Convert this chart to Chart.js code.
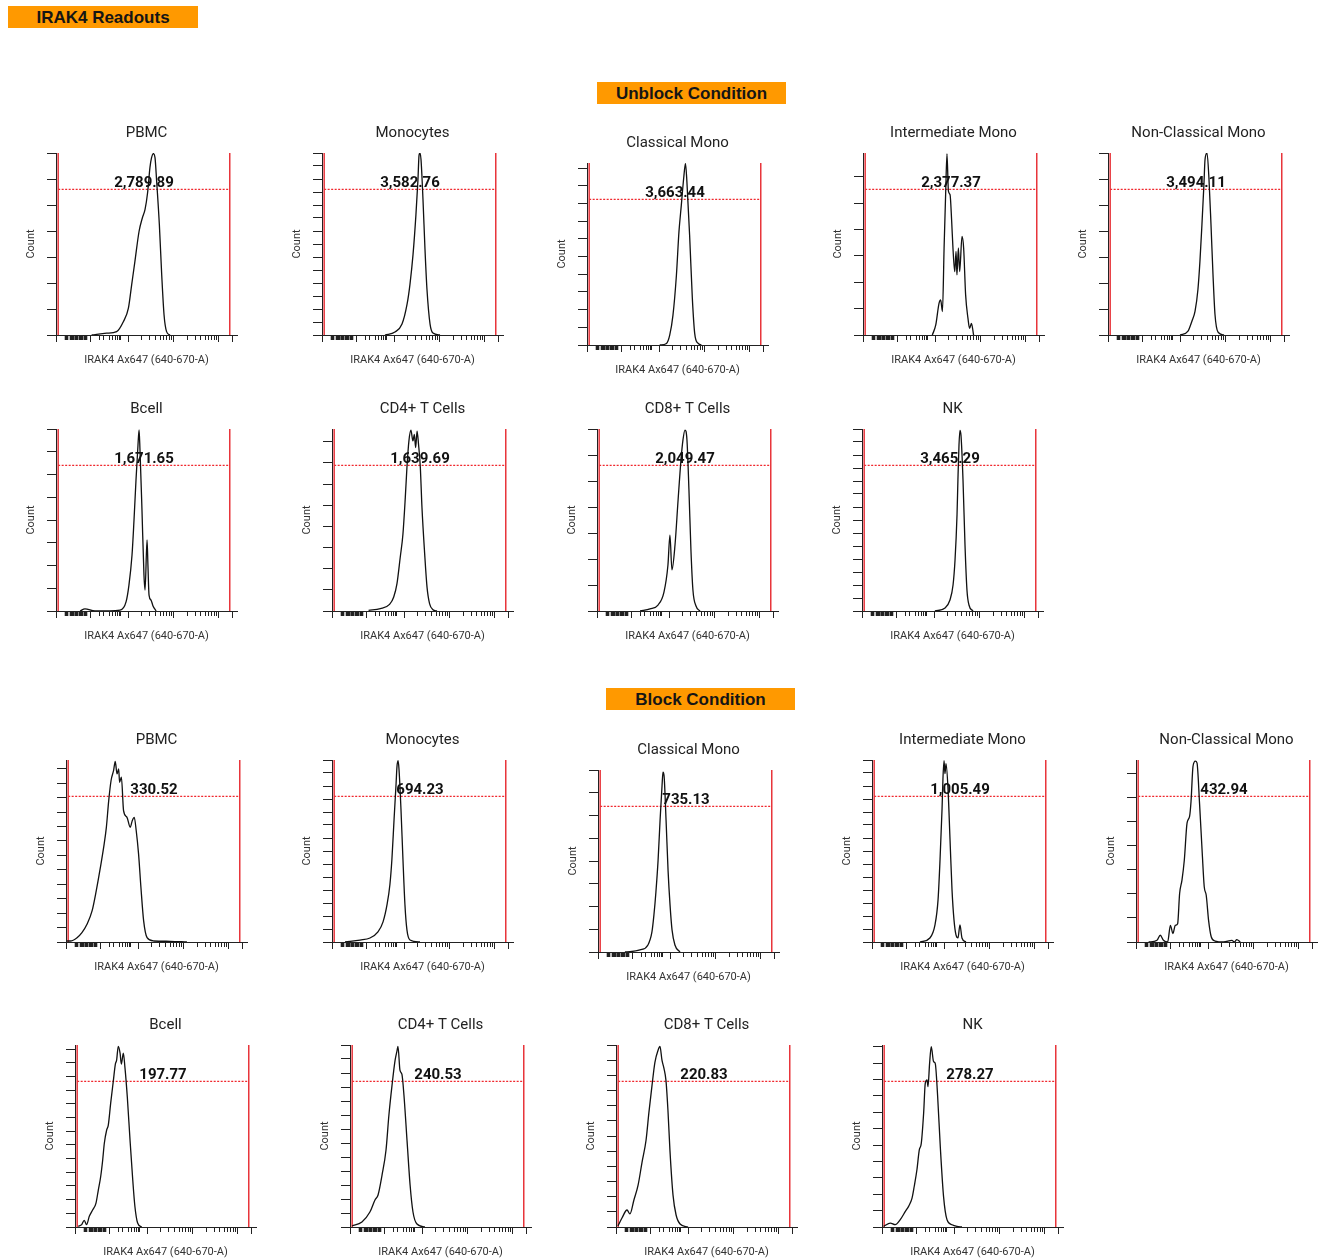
<!DOCTYPE html>
<html>
<head>
<meta charset="utf-8">
<script src="https://cdn.jsdelivr.net/npm/chart.js@4.4.1/dist/chart.umd.min.js"></script>
<style>
    body { margin: 0; background: #fff; width: 1326px; height: 1260px; position: relative; overflow: hidden; font-family: Roboto, sans-serif; }
    .tag { position: absolute; height: 20px; padding-top: 2px; line-height: 22px; background: #ff9900; color: #151515; text-align: center; font: bold 17px "Liberation Sans", Arial, sans-serif; }
    canvas { position: absolute; }
</style>
</head>
<body>
<div class="tag" style="left:8px;top:6px;width:190px">IRAK4 Readouts</div>
<div class="tag" style="left:597px;top:82px;width:189px">Unblock Condition</div>
<div class="tag" style="left:606px;top:688px;width:189px">Block Condition</div>

<script>
// panel names, same order in both conditions
const cellTypes = ['PBMC', 'Monocytes', 'Classical Mono', 'Intermediate Mono', 'Non-Classical Mono',
                   'Bcell', 'CD4+ T Cells', 'CD8+ T Cells', 'NK'];

// gate MFI readouts
const unblockMfi = ['2,789.89', '3,582.76', '3,663.44', '2,377.37', '3,494.11', '1,671.65', '1,639.69', '2,049.47', '3,465.29'];
const blockMfi = ['330.52', '694.23', '735.13', '1,005.49', '432.94', '197.77', '240.53', '220.83', '278.27'];

// y axis top (in count tick steps) for each panel
const unblockYMax = [7, 14, 10.3, 6.9, 7, 8, 8.6, 7, 14];
const blockYMax = [12.6, 14, 8, 14, 7.55, 13.3, 13, 12, 11.1];

// x axis: display channel 0..1000, biex ticks
const xMajorTicks = [0, 188, 400, 650, 900, 975];
const xMinorTicks = [55, 60, 65, 80, 85, 90, 95, 105, 110, 115, 120, 130, 135, 140, 145, 160, 165, 170,
                     239, 265, 293, 311, 326, 339, 350, 359,
                     475, 519, 550, 575, 595, 611, 626, 639,
                     725, 769, 800, 825, 845, 861, 876, 889];

// gate range (display units) and dotted level (fraction of y axis)
const gateRange = [12, 960];
const gateLevel = 0.8;

// histograms [x display, count]
const ubPBMC = [[197,0],[280,0.07],[335,0.13],[372,0.51],[400,1.03],[418,1.93],[436,2.83],[459,3.99],[477,4.5],[492,4.83],[506,5.47],[519,6.44],[528,6.82],[538,6.98],[547,6.82],[556,5.92],[571,4.25],[584,2.32],[597,0.77],[611,0.13],[630,0]];
const ubMono = [[348,0],[403,0.23],[442,0.84],[470,2.37],[486,3.9],[503,6.2],[519,9.26],[530,11.9],[536,13.8],[541,14],[547,13.5],[558,10.4],[569,6.6],[580,3.5],[597,0.84],[613,0.15],[652,0]];
const ubClassical = [[402,0],[439,0.09],[457,0.56],[475,1.69],[494,3.95],[508,6.4],[521,7.9],[534,9.42],[544,10.27],[552,9.23],[567,6.2],[582,2.64],[595,0.66],[613,0.1],[632,0]];
const ubInter = [[383,0],[402,0.38],[420,1.2],[429,1.33],[439,0.89],[448,3.3],[457,5.45],[464,6.87],[472,5.45],[481,5.32],[490,4.3],[497,3.3],[507,2.4],[514,3.17],[519,2.28],[527,3.3],[534,2.4],[547,3.74],[556,3.3],[567,1.52],[580,0.63],[589,0.25],[599,0.44],[611,0]];
const ubNonClass = [[398,0],[442,0.15],[464,0.54],[481,0.92],[497,1.76],[508,2.84],[519,4.25],[530,5.79],[536,6.74],[547,7.0],[558,5.98],[569,4.25],[580,2.34],[591,0.8],[608,0.11],[641,0]];
const ubBcell = [[133,0],[160,0.09],[215,0],[354,0.04],[387,0.4],[403,1.14],[420,2.46],[431,4.0],[442,5.76],[453,7.3],[459,7.96],[464,7.08],[475,4.44],[486,1.58],[492,0.92],[503,3.12],[508,2.0],[514,0.7],[525,0.48],[536,0.22],[553,0]];
const ubCD4 = [[202,0.03],[267,0.11],[318,0.31],[341,0.66],[359,1.29],[377,2.54],[392,3.64],[405,5.37],[414,6.78],[425,8.04],[436,8.54],[447,8.04],[455,8.35],[462,7.72],[470,8.5],[478,7.88],[488,6.78],[497,4.9],[512,2.7],[525,1.13],[539,0.35],[558,0.06],[580,0]];
const ubCD8 = [[238,0],[293,0.08],[337,0.23],[370,0.73],[392,1.77],[403,2.92],[414,1.58],[431,2.54],[448,4.27],[464,5.81],[475,6.58],[486,6.96],[497,6.58],[508,4.65],[519,2.35],[530,0.81],[547,0.19],[569,0]];
const ubNK = [[403,0],[459,0.23],[486,0.85],[503,2],[514,3.92],[525,7.4],[530,10.1],[536,12.8],[541,13.9],[547,13.5],[558,10.1],[569,5.1],[580,1.6],[591,0.46],[613,0]];

const bPBMC = [[6,0.07],[24,0.07],[61,0.3],[88,0.65],[116,1.23],[144,2.15],[167,3.54],[190,5.16],[208,6.55],[223,7.94],[236,9.79],[249,11.18],[263,11.88],[272,12.5],[282,11.64],[291,11.99],[296,11.06],[306,11.41],[318,9.1],[337,8.63],[355,7.94],[366,8.4],[377,8.63],[388,7.7],[401,6.08],[414,3.77],[429,1.46],[448,0.3],[484,0.07],[576,0.05],[668,0]];
const bMono = [[72,0],[155,0.15],[210,0.31],[254,0.78],[282,1.55],[304,2.87],[320,4.42],[331,6.36],[343,9.46],[354,12.17],[359,13.49],[365,13.95],[370,13.33],[381,10.23],[392,6.36],[403,2.87],[414,0.93],[431,0.15],[486,0]];
const bClassical = [[149,0],[232,0.09],[276,0.31],[298,0.88],[309,1.63],[320,2.64],[332,4.04],[343,5.8],[354,7.34],[359,7.91],[365,7.74],[376,5.8],[387,3.6],[398,2.07],[409,0.97],[425,0.31],[453,0]];
const bInter = [[265,0],[320,0.31],[348,1.32],[365,3.26],[376,6.36],[387,10.23],[392,12.56],[398,13.95],[403,12.95],[409,13.72],[420,11.78],[431,7.9],[442,4.03],[453,1.7],[464,0.54],[475,0.31],[486,1.32],[497,0.31],[519,0]];
const bNonClass = [[70,0],[116,0.07],[134,0.28],[152,0.07],[175,0],[190,0.69],[204,0.35],[217,0.69],[230,0.76],[241,2.01],[254,2.57],[267,3.4],[282,4.93],[296,5.21],[304,5.83],[315,7.29],[328,7.5],[337,7.43],[351,5.76],[366,3.68],[377,2.29],[388,1.94],[401,0.9],[416,0.21],[438,0.04],[484,0],[530,0.07],[543,0],[557,0.1],[576,0]];
const bBcell = [[18,0.05],[37,0.17],[51,0.49],[64,0.17],[79,0.78],[98,1.26],[116,1.75],[129,2.72],[142,3.69],[153,4.9],[162,6.12],[175,7.09],[184,7.45],[197,9.03],[212,10.7],[223,11.9],[230,12.2],[239,13.2],[249,12.7],[256,11.9],[267,12.7],[276,11.65],[289,9.5],[304,6.36],[319,3.45],[331,1.5],[346,0.29],[368,0]];
const bCD4 = [[11,0.07],[66,0.36],[110,1.07],[138,1.93],[155,2.29],[177,3.71],[199,5.5],[215,8],[232,10.1],[249,11.9],[260,12.6],[265,12.9],[276,11.2],[287,10.9],[298,9.43],[315,6.2],[332,3],[348,1.07],[370,0.21],[414,0]];
const bCD8 = [[11,0.07],[33,0.59],[61,1.12],[77,0.86],[99,1.78],[122,2.76],[144,4.28],[166,5.72],[182,7.57],[199,9.34],[215,10.86],[232,11.64],[243,11.9],[254,11],[265,10.46],[276,9.67],[287,7.7],[298,5.07],[315,2.1],[332,0.79],[354,0.2],[398,0]];
const bNK = [[9,0.04],[46,0.24],[73,0.14],[101,0.45],[129,0.95],[147,1.26],[166,1.76],[178,2.47],[193,3.49],[206,4.7],[217,5.1],[230,6.94],[239,8.76],[249,8.97],[254,8.56],[263,9.98],[272,11.0],[285,10.08],[294,9.98],[307,8.05],[322,4.91],[340,1.87],[359,0.45],[387,0.14],[414,0.04],[442,0]];

const unblockHists = [ubPBMC, ubMono, ubClassical, ubInter, ubNonClass, ubBcell, ubCD4, ubCD8, ubNK];
const blockHists = [bPBMC, bMono, bClassical, bInter, bNonClass, bBcell, bCD4, bCD8, bNK];

// page layout: left edge of y axis, top of plot
const unblockSlots = [[56,153],[322,153],[587,163],[863,153],[1108,153],[56,429],[332,429],[597,429],[862,429]];
const blockSlots = [[66,760],[332,760],[598,770],[872,760],[1136,760],[75,1045],[350,1045],[616,1045],[882,1045]];

const allXTicks = xMajorTicks.concat(xMinorTicks).sort(function (a, b) { return a - b; });

// MFI text over the gate
const gateLabel = {
    id: 'gateLabel',
    afterDatasetsDraw: function (chart, args, opts) {
        const ctx = chart.ctx;
        const xs = chart.scales.x, ys = chart.scales.y;
        const cx = (xs.getPixelForValue(gateRange[0]) + xs.getPixelForValue(gateRange[1])) / 2;
        const cy = ys.getPixelForValue(opts.level);
        ctx.save();
        ctx.font = 'bold 15px Roboto';
        ctx.fillStyle = '#111';
        ctx.textAlign = 'center';
        ctx.textBaseline = 'bottom';
        ctx.fillText(opts.text, cx, cy + 1);
        ctx.restore();
    }
};

function makeHistogram(slot, title, points, yMax, mfi) {
    const canvas = document.createElement('canvas');
    canvas.width = 240;
    canvas.height = 262;
    canvas.style.left = (slot[0] - 50) + 'px';
    canvas.style.top = (slot[1] - 40) + 'px';
    document.body.appendChild(canvas);

    const level = yMax * gateLevel;
    const red = '#e8343a';

    new Chart(canvas, {
        type: 'line',
        data: {
            datasets: [{
                data: points.map(function (p) { return { x: p[0], y: p[1] }; }),
                borderColor: '#111',
                borderWidth: 1.3,
                pointRadius: 0,
                cubicInterpolationMode: 'monotone'
            }, {
                data: [{ x: gateRange[0], y: 0 }, { x: gateRange[0], y: yMax }],
                borderColor: red, borderWidth: 1.5, pointRadius: 0
            }, {
                data: [{ x: gateRange[1], y: 0 }, { x: gateRange[1], y: yMax }],
                borderColor: red, borderWidth: 1.5, pointRadius: 0
            }, {
                data: [{ x: gateRange[0], y: level }, { x: gateRange[1], y: level }],
                borderColor: '#f0282e', borderWidth: 1.2, borderDash: [2, 1.5], pointRadius: 0
            }]
        },
        options: {
            responsive: false,
            animation: false,
            layout: { padding: { left: 0, right: 9, top: 0, bottom: 0 } },
            plugins: {
                legend: { display: false },
                tooltip: { enabled: false },
                title: {
                    display: true,
                    text: title,
                    fullSize: false,
                    color: '#222',
                    font: { family: 'Roboto', size: 15, weight: 'normal' },
                    padding: { top: 11, bottom: 11 }
                },
                gateLabel: { text: mfi, level: level }
            },
            scales: {
                x: {
                    type: 'linear',
                    min: 0,
                    max: 1000,
                    afterBuildTicks: function (s) {
                        s.ticks = allXTicks.map(function (v) { return { value: v }; });
                    },
                    afterFit: function (s) { s.height = 40; },
                    ticks: { display: false },
                    grid: {
                        drawOnChartArea: false,
                        tickLength: 7,
                        color: '#222',
                        tickWidth: function (c) {
                            return c.tick.value > 50 && c.tick.value < 180 ? 1.6 : 1;
                        },
                        tickBorderDash: function (c) {
                            return xMajorTicks.indexOf(c.tick.value) >= 0 ? [] : [4, 20];
                        }
                    },
                    border: { color: '#222', width: 1 },
                    title: {
                        display: true,
                        text: 'IRAK4 Ax647 (640-670-A)',
                        color: '#333',
                        font: { family: 'Roboto', size: 11 },
                        padding: { top: 0, bottom: 8 }
                    }
                },
                y: {
                    type: 'linear',
                    min: 0,
                    max: yMax,
                    afterFit: function (s) { s.width = 50; },
                    ticks: { display: false, stepSize: 1, includeBounds: false },
                    grid: { drawOnChartArea: false, tickLength: 9, color: '#222' },
                    border: { color: '#222', width: 1 },
                    title: {
                        display: true,
                        text: 'Count',
                        color: '#333',
                        font: { family: 'Roboto', size: 11 },
                        padding: { top: 19, bottom: 0 }
                    }
                }
            }
        },
        plugins: [gateLabel]
    });
}

cellTypes.forEach(function (name, i) {
    makeHistogram(unblockSlots[i], name, unblockHists[i], unblockYMax[i], unblockMfi[i]);
    makeHistogram(blockSlots[i], name, blockHists[i], blockYMax[i], blockMfi[i]);
});
</script>
</body>
</html>
